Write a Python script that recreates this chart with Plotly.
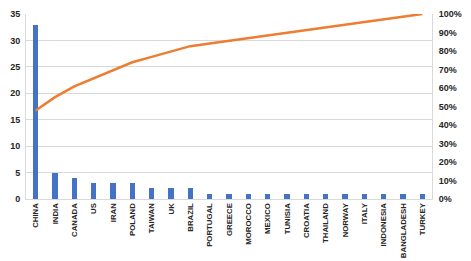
import plotly.graph_objects as go

countries = ["CHINA", "INDIA", "CANADA", "US", "IRAN", "POLAND", "TAIWAN", "UK", "BRAZIL",
             "PORTUGAL", "GREECE", "MOROCCO", "MEXICO", "TUNISIA", "CROATIA", "THAILAND",
             "NORWAY", "ITALY", "INDONESIA", "BANGLADESH", "TURKEY"]
counts = [33, 5, 4, 3, 3, 3, 2, 2, 2, 1, 1, 1, 1, 1, 1, 1, 1, 1, 1, 1, 1]

total = sum(counts)
cum = []
s = 0
for c in counts:
    s += c
    cum.append(s / total)

left_ticks = [0, 5, 10, 15, 20, 25, 30, 35]
right_ticks = [i / 10 for i in range(11)]
right_labels = [f"{i*10}%" for i in range(11)]

fig = go.Figure()
fig.add_trace(go.Bar(x=countries, y=counts, marker_color="#4472C4", width=0.28,
                     marker_line_width=0, yaxis="y"))
fig.add_trace(go.Scatter(x=countries, y=cum, mode="lines",
                         line=dict(color="#ED7D31", width=2.5), yaxis="y2"))

tfx = dict(family="Liberation Sans", size=7.8, color="#262626", weight="bold")
tfy = dict(family="Liberation Sans", size=9, color="#262626", weight="bold")
fig.update_layout(
    width=463, height=253,
    margin=dict(l=18, r=39, t=6, b=62),
    paper_bgcolor="white", plot_bgcolor="white",
    showlegend=False,
    bargap=0,
    xaxis=dict(tickangle=-90, tickfont=tfx, showgrid=False, showline=True,
               linecolor="#D9D9D9", linewidth=1, ticks="", automargin=False),
    yaxis=dict(range=[0, 35], tickvals=left_ticks, tickfont=tfy, showgrid=True,
               gridcolor="#D9D9D9", gridwidth=1, zeroline=False, showline=True,
               linecolor="#D9D9D9", ticks="", automargin=False, ticklabelstandoff=3),
    yaxis2=dict(range=[0, 1], tickvals=right_ticks, ticktext=right_labels, tickfont=tfy,
                overlaying="y", side="right", showgrid=False, zeroline=False,
                showline=True, linecolor="#D9D9D9", ticks="", automargin=False,
                ticklabelstandoff=4),
)
fig.write_html("out.html")
